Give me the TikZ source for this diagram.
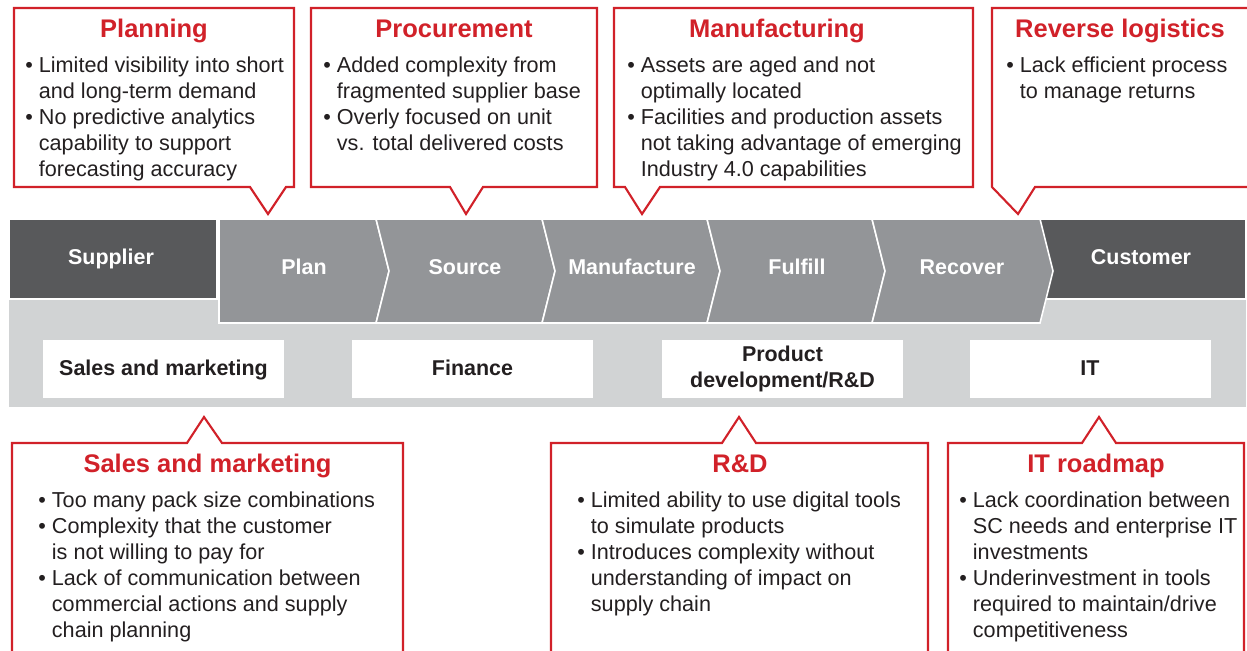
\documentclass[tikz,border=0pt]{standalone}
\usepackage{fontspec}
\setmainfont{Liberation Sans}
\definecolor{callred}{RGB}{209,33,41}
\definecolor{stepgray}{RGB}{147,149,152}
\definecolor{endgray}{RGB}{88,89,91}
\definecolor{bandgray}{RGB}{209,211,212}
\definecolor{inkblack}{RGB}{35,31,32}
\def\chevron[#1](#2:#3){\draw[#1] (#2,219) -- (#3,219) -- ({#3+13},271) -- (#3,323) -- (#2,323) -- ({#2+13},271) -- cycle;}
\newcommand{\bulind}{\hphantom{\textbullet\ }}
\tikzset{
	callout/.style={draw=callred, line width=1.2pt, line join=miter},
	ctitle/.style={font=\fontsize{14.5}{17}\selectfont\bfseries, text=callred, inner sep=0pt, anchor=base},
	clist/.style={font=\fontsize{12.3}{14.8}\selectfont, text=inkblack, align=left, inner sep=0pt, anchor=north west},
	stepbox/.style={fill=stepgray, draw=white, line width=0.9pt},
	endbox/.style={fill=endgray, draw=white, line width=0.9pt},
	steplabel/.style={font=\fontsize{12.2}{14}\selectfont\bfseries, text=white, text height=0.72em, text depth=0pt},
	areabox/.style={fill=white, minimum width=48.2mm, minimum height=11.6mm, inner sep=0pt, align=center, font=\fontsize{12.2}{14.8}\selectfont\bfseries, text=inkblack, text height=0.72em, text depth=0pt},
}

\begin{document}
\begin{tikzpicture}[x=0.2mm, y=-0.2mm]
		%%%%% START %%%%%
		\useasboundingbox (0,0) rectangle (1247,650);
		
		% grey band behind the process
		\fill[bandgray] (9,219) rectangle (1246,407);
		
		\draw[endbox] (9,219) rectangle (217,299);
		\draw[endbox] (1040,219) rectangle (1246,299);
		
		\draw[stepbox] (219,219) -- (376,219) -- (389,271) -- (376,323) -- (219,323) -- cycle;
		\chevron[stepbox](376:542)
		\chevron[stepbox](542:707)
		\chevron[stepbox](707:872)
		\chevron[stepbox](872:1040)
		
		\node[steplabel] (supplier) at (111,258) {Supplier};
		\node[steplabel] (plan) at (304,268) {Plan};
		\node[steplabel] (source) at (465,268) {Source};
		\node[steplabel] (make) at (632,268) {Manufacture};
		\node[steplabel] (fulfill) at (797,268) {Fulfill};
		\node[steplabel] (recover) at (962,268) {Recover};
		\node[steplabel] (customer) at (1141,258) {Customer};
		
		\node[areabox] (sales) at (163.5,369) {Sales and marketing};
		\node[areabox] (finance) at (472.5,369) {Finance};
		\node[areabox, text height=, text depth=] (product) at (782.5,369) {Product\\development/R\&D};
		\node[areabox] (it) at (1090,369) {IT};
		
		% callouts above
		\draw[callout] (14,187) -- (14,8) -- (294,8) -- (294,187) -- (286,187) -- (268,214) -- (250,187) -- cycle;
		\node[ctitle] (planT) at (154,37) {Planning};
		\node[clist] (planL) at (25,56.5) {\textbullet\ Limited visibility into short\\\bulind and long-term demand\\\textbullet\ No predictive analytics\\\bulind capability to support\\\bulind forecasting accuracy};
		
		\draw[callout] (311,187) -- (311,8) -- (597,8) -- (597,187) -- (483,187) -- (466,214) -- (450,187) -- cycle;
		\node[ctitle] (procT) at (454,37) {Procurement};
		\node[clist] (procL) at (323,56.5) {\textbullet\ Added complexity from\\\bulind fragmented supplier base\\\textbullet\ Overly focused on unit\\\bulind vs. total delivered costs};
		
		\draw[callout] (614,187) -- (614,8) -- (973,8) -- (973,187) -- (660,187) -- (642,214) -- (625,187) -- cycle;
		\node[ctitle] (manuT) at (777,37) {Manufacturing};
		\node[clist] (manuL) at (627,56.5) {\textbullet\ Assets are aged and not\\\bulind optimally located\\\textbullet\ Facilities and production assets\\\bulind not taking advantage of emerging\\\bulind Industry 4.0 capabilities};
		
		\draw[callout] (1255,8) -- (992,8) -- (992,187) -- (1018,214) -- (1035,187) -- (1255,187);
		\node[ctitle] (revT) at (1120,37) {Reverse logistics};
		\node[clist] (revL) at (1006,56.5) {\textbullet\ Lack efficient process\\\bulind to manage returns};
		
		% callouts below
		\draw[callout] (12,660) -- (12,443) -- (187,443) -- (204,417) -- (222,443) -- (403,443) -- (403,660);
		\node[ctitle] (salesT) at (207.5,472) {Sales and marketing};
		\node[clist] (salesL) at (38,491.5) {\textbullet\ Too many pack size combinations\\\textbullet\ Complexity that the customer\\\bulind is not willing to pay for\\\textbullet\ Lack of communication between\\\bulind commercial actions and supply\\\bulind chain planning};
		
		\draw[callout] (551,660) -- (551,443) -- (722,443) -- (739,417) -- (756,443) -- (928,443) -- (928,660);
		\node[ctitle] (rdT) at (740,472) {R\&D};
		\node[clist] (rdL) at (577,491.5) {\textbullet\ Limited ability to use digital tools\\\bulind to simulate products\\\textbullet\ Introduces complexity without\\\bulind understanding of impact on\\\bulind supply chain};
		
		\draw[callout] (948,660) -- (948,443) -- (1082,443) -- (1099,417) -- (1116,443) -- (1244,443) -- (1244,660);
		\node[ctitle] (itT) at (1096,472) {IT roadmap};
		\node[clist] (itL) at (959,491.5) {\textbullet\ Lack coordination between\\\bulind SC needs and enterprise IT\\\bulind investments\\\textbullet\ Underinvestment in tools\\\bulind required to maintain/drive\\\bulind competitiveness};
		
		%%%%% END %%%%%
	\end{tikzpicture}
\end{document}
